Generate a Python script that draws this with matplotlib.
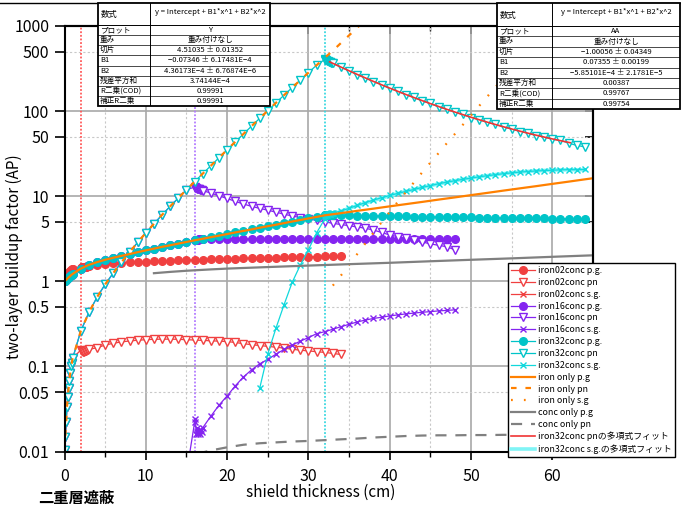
import numpy as np
import matplotlib
matplotlib.use('Agg')
import matplotlib.pyplot as plt
from matplotlib.lines import Line2D
from matplotlib.patches import Rectangle
from matplotlib.ticker import NullFormatter

plt.rcParams['font.family'] = ['Noto Sans CJK JP', 'DejaVu Sans']

W, H = 681, 505

# ---- iron only (fine steps in the first cm, then every cm) ----
fe_x = [0, 0.1, 0.2, 0.3, 0.4, 0.5, 0.6, 0.7, 0.8, 0.9, 1.0] + list(range(2, 33))
fe_pg = [1.00, 1.02, 1.04, 1.06, 1.09, 1.11, 1.13, 1.15, 1.18, 1.20, 1.22,
         1.41, 1.56, 1.68, 1.79, 1.89, 1.99, 2.09, 2.20, 2.31, 2.42, 2.54, 2.65, 2.77, 2.90, 3.03,
         3.16, 3.30, 3.44, 3.59, 3.75, 3.91, 4.07, 4.26, 4.44, 4.62, 4.83, 5.04, 5.25, 5.48, 5.71, 5.96]
fe_pn = [0.0104, 0.015, 0.022, 0.033, 0.044, 0.055, 0.068, 0.083, 0.100, 0.110, 0.124,
         0.26, 0.43, 0.65, 0.92, 1.25, 1.67, 2.20, 2.87, 3.70, 4.74, 6.04, 7.60, 9.53, 11.9, 14.8,
         18.4, 22.8, 28.3, 35.1, 43.5, 53.8, 66.5, 82.2, 101, 125, 154, 189, 231, 283, 346, 422]

fe_pg_x2 = [34, 36, 38, 40, 42, 44, 46, 48, 50, 52, 54, 56, 58, 60, 62, 64, 65]
fe_pg2 = [6.32, 6.73, 7.14, 7.60, 8.07, 8.57, 9.12, 9.68, 10.30, 10.94, 11.64, 12.36,
          13.12, 13.96, 14.83, 15.78, 16.26]
fe_pn_x2 = [33, 34, 35, 36, 37]
fe_pn2 = [513, 631, 776, 955, 1175]
fe_sg_x = list(range(33, 61))
fe_sg = [0.89, 1.17, 1.57, 2.09, 2.79, 3.72, 4.95, 6.53, 8.61, 11.2, 14.6, 19.1, 24.8, 32.0,
         41.7, 53.7, 69.2, 89.1, 115, 148, 191, 245, 316, 407, 525, 676, 871, 1122]

# ---- concrete only ----
co_pg_x = [11, 13, 15, 18, 20, 25, 30, 35, 40, 45, 50, 55, 60, 65]
co_pg = [1.245, 1.29, 1.33, 1.38, 1.41, 1.47, 1.53, 1.59, 1.65, 1.72, 1.79, 1.86, 1.94, 2.02]
co_pn_x = [14, 16, 18, 20, 22, 24, 26, 28, 30, 32, 34, 36, 38, 40, 42, 44, 46, 48, 50,
           52, 54, 56, 58, 60, 62, 64, 65]
co_pn = [0.0075, 0.0092, 0.0103, 0.0112, 0.0120, 0.0125, 0.0128, 0.0131, 0.0133, 0.0136,
         0.0139, 0.0142, 0.0146, 0.0149, 0.0152, 0.0154, 0.0155, 0.0155, 0.0156, 0.0156,
         0.0157, 0.0157, 0.0157, 0.0158, 0.0158, 0.0158, 0.0158]

# concrete depth behind the iron layer
conc_dx = [0.1, 0.2, 0.3, 0.4, 0.5, 0.6, 0.7, 0.8, 0.9, 1.0] + list(range(2, 33))

# ---- iron 2 cm + concrete ----
x02 = fe_x[:11] + [2] + [round(2 + d, 1) for d in conc_dx]
iron02_pg = ([1.09, 1.13, 1.17, 1.20, 1.23, 1.26, 1.29, 1.32, 1.35, 1.38, 1.40, 1.45]
             + [1.46, 1.47, 1.47, 1.48, 1.48, 1.49, 1.49, 1.50, 1.50, 1.51]
             + [1.56, 1.60, 1.63, 1.66, 1.68, 1.69, 1.70, 1.71, 1.73, 1.74, 1.76, 1.77, 1.79,
                1.80, 1.82, 1.83, 1.84, 1.85, 1.86, 1.87, 1.88, 1.89, 1.90, 1.91, 1.92, 1.93,
                1.94, 1.95, 1.96, 1.97, 1.98])
iron02_pn = ([0.0104, 0.015, 0.022, 0.033, 0.044, 0.055, 0.068, 0.083, 0.100, 0.110, 0.124, 0.156]
             + [0.152, 0.150, 0.149, 0.149, 0.150, 0.151, 0.152, 0.154, 0.156, 0.158]
             + [0.166, 0.178, 0.187, 0.194, 0.199, 0.203, 0.206, 0.208, 0.209, 0.209, 0.208,
                0.206, 0.204, 0.202, 0.200, 0.198, 0.196, 0.191, 0.185, 0.180, 0.176, 0.172,
                0.168, 0.164, 0.159, 0.155, 0.152, 0.149, 0.146, 0.142, 0.138])

# ---- iron 16 cm + concrete ----
x16 = fe_x[:26] + [round(16 + d, 1) for d in conc_dx]
iron16_pg = (fe_pg[:26]
             + [3.05, 3.07, 3.08, 3.09, 3.10, 3.10, 3.11, 3.11, 3.12, 3.12]
             + [3.12, 3.13, 3.13, 3.13, 3.13, 3.14, 3.14, 3.14, 3.14, 3.14, 3.14, 3.14, 3.14,
                3.14, 3.14, 3.14, 3.14, 3.14, 3.14, 3.14, 3.13, 3.13, 3.13, 3.13, 3.13, 3.13,
                3.12, 3.12, 3.12, 3.12, 3.12])
iron16_pn = (fe_pn[:25] + [12.8]
             + [12.6, 12.4, 12.3, 12.2, 12.1, 12.0, 11.9, 11.8, 11.7, 11.6]
             + [10.9, 10.1, 9.4, 8.7, 8.1, 7.6, 7.2, 6.85, 6.5, 6.15, 5.85, 5.6, 5.4, 5.2, 5.0,
                4.8, 4.65, 4.5, 4.35, 4.2, 4.0, 3.75, 3.5, 3.35, 3.2, 3.05, 2.9, 2.75, 2.65,
                2.55, 2.35])
x16_sg = [15, 16] + [round(16 + d, 1) for d in conc_dx]
iron16_sg = ([0.0055, 0.022]
             + [0.024, 0.016, 0.019, 0.016, 0.018, 0.017, 0.016, 0.018, 0.017, 0.019]
             + [0.026, 0.035, 0.045, 0.059, 0.075, 0.091, 0.107, 0.121, 0.139, 0.158, 0.178,
                0.198, 0.218, 0.242, 0.256, 0.273, 0.293, 0.312, 0.333, 0.350, 0.366, 0.378,
                0.392, 0.403, 0.414, 0.423, 0.433, 0.440, 0.449, 0.455, 0.462])

# ---- iron 32 cm + concrete ----
x32 = fe_x + [round(32 + d, 1) for d in conc_dx]
iron32_pg = (fe_pg
             + [5.98, 6.00, 6.01, 6.01, 6.01, 6.01, 6.00, 6.00, 5.99, 5.98]
             + [5.96, 5.94, 5.92, 5.89, 5.87, 5.85, 5.83, 5.81, 5.79, 5.77, 5.75, 5.73, 5.71,
                5.69, 5.67, 5.65, 5.63, 5.61, 5.59, 5.57, 5.55, 5.53, 5.51, 5.50, 5.48, 5.47,
                5.46, 5.45, 5.44, 5.43, 5.41])
iron32_pn = (fe_pn[:41] + [404]
             + [400, 395, 390, 386, 382, 378, 374, 370, 367, 364]
             + [328, 299, 268, 246, 222, 205, 185, 172, 156, 145, 132, 123, 112, 106, 97,
                91.5, 84, 79.5, 73.5, 70, 65, 62, 57.5, 55.5, 51.5, 50, 46.5, 45.5, 42, 39.5, 38])
x32_sg = list(range(24, 33)) + [round(32 + d, 1) for d in conc_dx]
iron32_sg = ([0.055, 0.14, 0.28, 0.53, 0.97, 1.55, 2.35, 3.7, 5.4]
             + [5.9, 6.0, 6.05, 6.1, 6.15, 6.2, 6.25, 6.3, 6.3, 6.35]
             + [6.7, 7.2, 7.8, 8.4, 9.0, 9.6, 10.2, 10.8, 11.4, 12.0, 12.7, 13.3, 14.0, 14.6,
                15.2, 15.8, 16.3, 16.9, 17.4, 17.9, 18.4, 18.8, 19.2, 19.5, 19.8, 20.0, 20.2,
                20.4, 20.5, 20.5, 20.6])

# quadratic fits of log10(B) (coefficients: intercept, B1, B2)
pn_fit = [4.51035, -0.07346, 4.36173e-4]
sg_fit = [-1.00056, 0.07355, -5.85101e-4]
pn_fit_range = (32.6, 62.2)
sg_fit_range = (32.0, 64.0)

interfaces = [2, 16, 32]

fit_rows = ['プロット', '重み', '切片', 'B1', 'B2', '残差平方和', 'R二乗(COD)', '補正R二乗']
fit_pn_text = ['Y', '重み付けなし', '4.51035 ± 0.01352', '−0.07346 ± 6.17481E−4',
               '4.36173E−4 ± 6.76874E−6', '3.74144E−4', '0.99991', '0.99991']
fit_sg_text = ['AA', '重み付けなし', '−1.00056 ± 0.04349', '0.07355 ± 0.00199',
               '−5.85101E−4 ± 2.1781E−5', '0.00387', '0.99767', '0.99754']
formula = 'y = Intercept + B1*x^1 + B2*x^2'

RED = '#f04040'
PUR = '#8424f0'
CYN = '#00c4c8'
ORG = '#ff8000'
GRY = '#808080'

fig = plt.figure(figsize=(W / 100, H / 100), dpi=100)
ax = fig.add_axes([64.5 / W, 1 - 451.5 / H, (593 - 64.5) / W, (451.5 - 26) / H])
ax.set_yscale('log')
ax.set_xlim(0, 65)
ax.set_ylim(0.01, 1000)

# interface markers
for xi, c in zip(interfaces, ['#ff5a5a', '#b37cff', '#3cd8e0']):
    ax.axvline(xi, color=c, ls=(0, (1, 1)), lw=1.3, zorder=1.5)

lw = 0.9
circ = dict(marker='o', ms=5.5, lw=lw)
tri = dict(marker='v', ms=6, mfc='white', mew=1.0, lw=lw)
cross = dict(marker='x', ms=5, mew=1.0, lw=lw)

h = []
h += ax.plot(x02, iron02_pg, color=RED, label='iron02conc p.g.', **circ)
h += ax.plot(x02, iron02_pn, color=RED, label='iron02conc pn', **tri)
h += ax.plot([], [], color=RED, label='iron02conc s.g.', **cross)
h += ax.plot(x16, iron16_pg, color=PUR, label='iron16conc p.g.', **circ)
h += ax.plot(x16, iron16_pn, color=PUR, label='iron16conc pn', **tri)
h += ax.plot(x16_sg, iron16_sg, color=PUR, label='iron16conc s.g.', **cross)
h += ax.plot(x32, iron32_pg, color=CYN, label='iron32conc p.g.', **circ)
h += ax.plot(x32, iron32_pn, color=CYN, label='iron32conc pn', **tri)
h += ax.plot(x32_sg, iron32_sg, color='#10d8dc', label='iron32conc s.g.', **cross)
h += ax.plot(fe_x + fe_pg_x2, fe_pg + fe_pg2, color=ORG, lw=1.6, label='iron only p.g')
h += ax.plot(fe_x + fe_pn_x2, fe_pn + fe_pn2, color=ORG, lw=1.6, ls=(0, (2.5, 4)),
             label='iron only pn')
h += ax.plot(fe_sg_x, fe_sg, color=ORG, lw=1.6, ls=(0, (0.8, 5)), label='iron only s.g')
h += ax.plot(co_pg_x, co_pg, color=GRY, lw=1.6, label='conc only p.g')
h += ax.plot(co_pn_x, co_pn, color=GRY, lw=1.6, ls=(0, (5, 4)), label='conc only pn')

xf = np.linspace(*pn_fit_range, 200)
h += ax.plot(xf, 10 ** np.polyval(pn_fit[::-1], xf), color='#f03434', lw=1.2,
             label='iron32conc pnの多項式フィット')
xs = np.linspace(*sg_fit_range, 200)
h += ax.plot(xs, 10 ** np.polyval(sg_fit[::-1], xs), color='#80f4f6', lw=2.6, zorder=1.8,
             label='iron32conc s.g.の多項式フィット')

# ticks and grid
xmaj = [0, 10, 20, 30, 40, 50, 60]
xmin = [5, 15, 25, 35, 45, 55, 65]
ymaj = [0.01, 0.1, 1, 10, 100, 1000]
ymin = [0.05, 0.5, 5, 50, 500]
ax.set_xticks(xmaj)
ax.set_xticks(xmin, minor=True)
ax.set_yticks(ymaj)
ax.set_yticklabels(['0.01', '0.1', '1', '10', '100', '1000'])
ax.set_yticks(ymin, minor=True)
ax.set_yticklabels(['0.05', '0.5', '5', '50', '500'], minor=True)
ax.tick_params(axis='x', which='major', direction='out', length=6, width=1.2,
               labelsize=11.5, pad=6)
ax.tick_params(axis='x', which='minor', direction='out', length=3.5, width=1.0)
ax.tick_params(axis='y', which='both', direction='out', length=7, width=1.2,
               labelsize=11.5, pad=4)
ax.grid(which='major', color='#a8a8a8', lw=1.2, ls='-')
ax.grid(which='minor', color='#c8c8c8', lw=0.8, ls=(0, (2, 2)))
ax.set_axisbelow(True)
for s in ax.spines.values():
    s.set_linewidth(1.5)

top = ax.secondary_xaxis('top')
top.set_xticks(xmaj)
top.set_xticks(xmin, minor=True)
top.xaxis.set_major_formatter(NullFormatter())
top.xaxis.set_minor_formatter(NullFormatter())
top.tick_params(which='major', direction='in', length=6, width=1.2)
top.tick_params(which='minor', direction='in', length=3.5, width=1.0)
top.spines['top'].set_linewidth(1.5)

right = ax.secondary_yaxis('right')
right.set_yticks(ymaj)
right.set_yticks(ymin, minor=True)
right.yaxis.set_major_formatter(NullFormatter())
right.yaxis.set_minor_formatter(NullFormatter())
right.tick_params(which='both', direction='in', length=6, width=1.2)
right.spines['right'].set_linewidth(1.5)

fig.text(14 / W, 1 - 257 / H, 'two-layer buildup factor (AP)', rotation=90,
         ha='center', va='center', fontsize=11)
fig.text(321 / W, 1 - 492 / H, 'shield thickness (cm)', ha='center', va='center', fontsize=11)
fig.text(38 / W, 1 - 498 / H, '二重層遮蔽', ha='left', va='center', fontsize=11,
         fontweight='bold')

fig.add_artist(Line2D([0, 1], [1 - 2.5 / H] * 2, transform=fig.transFigure,
                      color='black', lw=1.0))

leg = ax.legend(handles=h, loc='upper left', bbox_to_anchor=(508 / W, 1 - 263 / H),
                bbox_transform=fig.transFigure, fontsize=6.4, frameon=True,
                fancybox=False, framealpha=1, edgecolor='black', borderpad=0.35,
                labelspacing=0.32, handlelength=2.7, handletextpad=0.35, borderaxespad=0)
leg.get_frame().set_linewidth(1.0)
leg.set_zorder(6)


def draw_table(x0, y0, w, ht, col, head, labels, values):
    tax = fig.add_axes([x0 / W, 1 - (y0 + ht) / H, w / W, ht / H], zorder=5)
    tax.set_xlim(0, w)
    tax.set_ylim(ht, 0)
    tax.axis('off')
    tax.add_patch(Rectangle((0, 0), w, ht, facecolor='white', edgecolor='black',
                            lw=1.3, clip_on=False))
    rh = (ht - head) / len(labels)
    tax.plot([col, col], [0, ht], color='black', lw=0.7)
    for i in range(len(labels)):
        yy = head + i * rh
        tax.plot([0, w], [yy, yy], color='black', lw=0.7 if i == 0 else 0.5)
    fs = 5.5
    tax.text(3, head / 2 + 1, '数式', va='center', ha='left', fontsize=fs + 0.5)
    tax.text((col + w) / 2, head * 0.4, formula, va='center', ha='center', fontsize=fs)
    for i, (lab, val) in enumerate(zip(labels, values)):
        yc = head + (i + 0.5) * rh
        tax.text(2, yc, lab, va='center', ha='left', fontsize=fs)
        tax.text((col + w) / 2, yc, val, va='center', ha='center', fontsize=fs)


draw_table(98, 3, 172, 103, 52, 22, fit_rows, fit_pn_text)
draw_table(497, 3, 183, 106, 55, 23, fit_rows, fit_sg_text)

fig.savefig('out.png', dpi=100)
